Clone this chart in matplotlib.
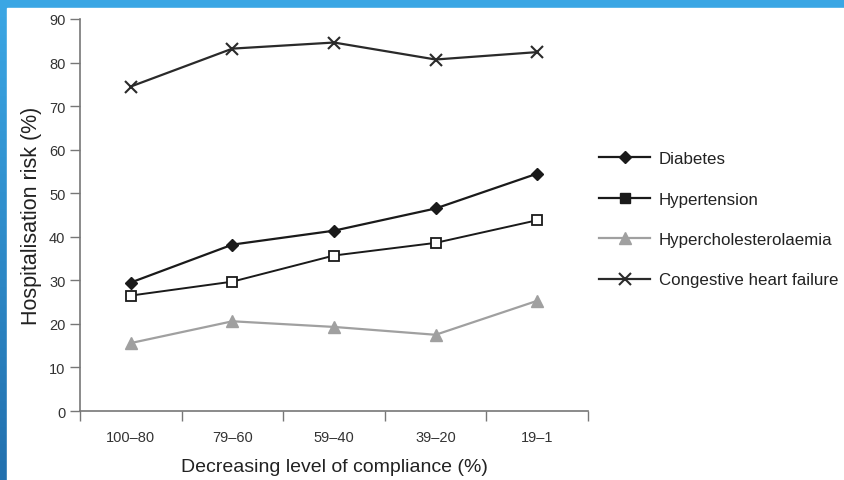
import numpy as np
import matplotlib
matplotlib.use("Agg")
from matplotlib import pyplot as plt
from matplotlib.lines import Line2D
from matplotlib.patches import Rectangle

# data
categories = ["100\u201380", "79\u201360", "59\u201340", "39\u201320", "19\u20131"]
diabetes = [29.5, 38.2, 41.4, 46.5, 54.5]
hypertension = [26.5, 29.7, 35.7, 38.6, 43.8]
hypercholesterolaemia = [15.6, 20.6, 19.3, 17.5, 25.3]
chf = [74.5, 83.2, 84.6, 80.7, 82.4]
series_names = ["Diabetes", "Hypertension", "Hypercholesterolaemia", "Congestive heart failure"]

plt.rcParams['font.family'] = ['Liberation Sans', 'DejaVu Sans']

W, H = 844, 481
fig = plt.figure(figsize=(W / 100, H / 100), dpi=100)

# slide background: blue gradient with white panel
bg = fig.add_axes([0, 0, 1, 1], zorder=-10)
top = np.array([0x3b, 0xa7, 0xe5]) / 255
bot = np.array([0x22, 0x70, 0xae]) / 255
t = np.linspace(0, 1, 256)[:, None]
grad = top[None, :] * (1 - t) + bot[None, :] * t
bg.imshow(grad[:, None, :], aspect='auto', extent=[0, 1, 0, 1], origin='upper')
bg.add_patch(Rectangle((7 / W, 0), 1, 1 - 9 / H, color='white'))
bg.set_xlim(0, 1)
bg.set_ylim(0, 1)
bg.axis('off')

ax = fig.add_axes([80 / W, 1 - 412 / H, (588 - 80) / W, (412 - 20) / H])
x = np.arange(1, len(categories) + 1)

ax.plot(x, chf, color='#2a2a2a', lw=1.6, marker='x', ms=8, mew=1.5)
ax.plot(x, diabetes, color='#1a1a1a', lw=1.6, marker='D', ms=6)
ax.plot(x, hypertension, color='#1a1a1a', lw=1.4, marker='s', ms=7, mfc='white', mew=1.3)
ax.plot(x, hypercholesterolaemia, color='#a0a0a0', lw=1.6, marker='^', ms=8)

ax.set_xlim(0.5, len(categories) + 0.5)
ax.set_ylim(0, 90)
ax.set_yticks(range(0, 91, 10))
ax.set_xticks(np.arange(0.5, len(categories) + 1, 1))
ax.set_xticklabels([])
ax.set_xticks(x, minor=True)
ax.set_xticklabels(categories, minor=True)
ax.tick_params(axis='x', which='minor', length=0, pad=14)
ax.tick_params(which='major', length=7, width=1, color='#777777', labelsize=10.5, labelcolor='#333333')
ax.tick_params(axis='x', which='minor', labelsize=10.5, labelcolor='#333333')
for s in ['top', 'right']:
    ax.spines[s].set_visible(False)
for s in ['left', 'bottom']:
    ax.spines[s].set_color('#777777')
    ax.spines[s].set_linewidth(1.2)

ax.set_ylabel("Hospitalisation risk (%)", fontsize=15.5, color='#222222', labelpad=5)
ax.set_xlabel("Decreasing level of compliance (%)", fontsize=14, color='#222222', labelpad=10)

handles = [
    Line2D([], [], color='#1a1a1a', lw=1.6, marker='D', ms=6),
    Line2D([], [], color='#1a1a1a', lw=1.6, marker='s', ms=7),
    Line2D([], [], color='#a0a0a0', lw=1.6, marker='^', ms=8),
    Line2D([], [], color='#2a2a2a', lw=1.6, marker='x', ms=8, mew=1.5),
]
leg = fig.legend(handles, series_names, loc='upper left', bbox_to_anchor=(584 / W, 1 - 137 / H),
                 frameon=False, fontsize=12.2, handlelength=3.0, labelspacing=1.5,
                 handletextpad=0.5, labelcolor='#222222')

fig.savefig("out.png", dpi=100)
